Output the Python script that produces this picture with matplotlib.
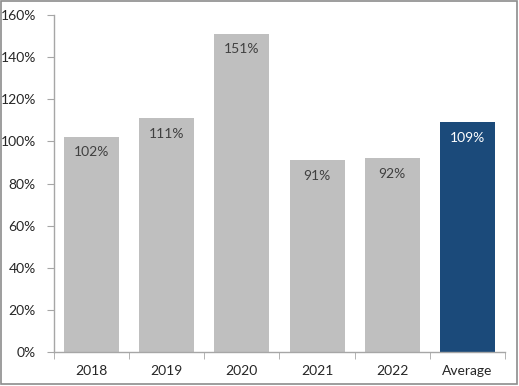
import matplotlib.pyplot as plt
from matplotlib.patches import Rectangle
from matplotlib.ticker import FixedLocator, PercentFormatter

categories = ["2018", "2019", "2020", "2021", "2022", "Average"]
values = [102, 111, 151, 91, 92, 109]
bar_colors = ["#BFBFBF"] * 5 + ["#1B4A7A"]
label_colors = ["#404040"] * 5 + ["white"]

plt.rcParams["font.family"] = ["Lato", "DejaVu Sans"]

fig = plt.figure(figsize=(5.19, 3.86), dpi=100)
ax = fig.add_axes([0.104, 0.088, 0.869, 0.873])

x = list(range(len(categories)))
ax.bar(x, values, width=0.73, color=bar_colors, zorder=2)
for xi, v, c in zip(x, values, label_colors):
    ax.annotate(f"{v}%", (xi, v), xytext=(0, -11), textcoords="offset points",
                ha="center", va="center", fontsize=10, color=c)

ax.set_xlim(-0.5, len(categories) - 0.5)
ax.set_ylim(0, 160)
ax.set_yticks(range(0, 161, 20))
ax.yaxis.set_major_formatter(PercentFormatter(decimals=0))
ax.set_xticks(x)
ax.set_xticklabels(categories)
ax.xaxis.set_minor_locator(FixedLocator([i - 0.5 for i in range(len(categories) + 1)]))
ax.tick_params(axis="x", which="major", length=0, pad=9, labelsize=10, labelcolor="#262626")
ax.tick_params(axis="x", which="minor", length=5, color="#A6A6A6", direction="out")
ax.tick_params(axis="y", length=5, color="#A6A6A6", labelsize=10, labelcolor="#262626", pad=8)

for side in ("top", "right"):
    ax.spines[side].set_visible(False)
for side in ("left", "bottom"):
    ax.spines[side].set_color("#A6A6A6")
    ax.spines[side].set_linewidth(1)

fig.patches.append(Rectangle((0.002, 0.004), 0.995, 0.993, transform=fig.transFigure,
                             fill=False, edgecolor="#8C8C8C", linewidth=1.2))

fig.savefig("out.png", dpi=100)
